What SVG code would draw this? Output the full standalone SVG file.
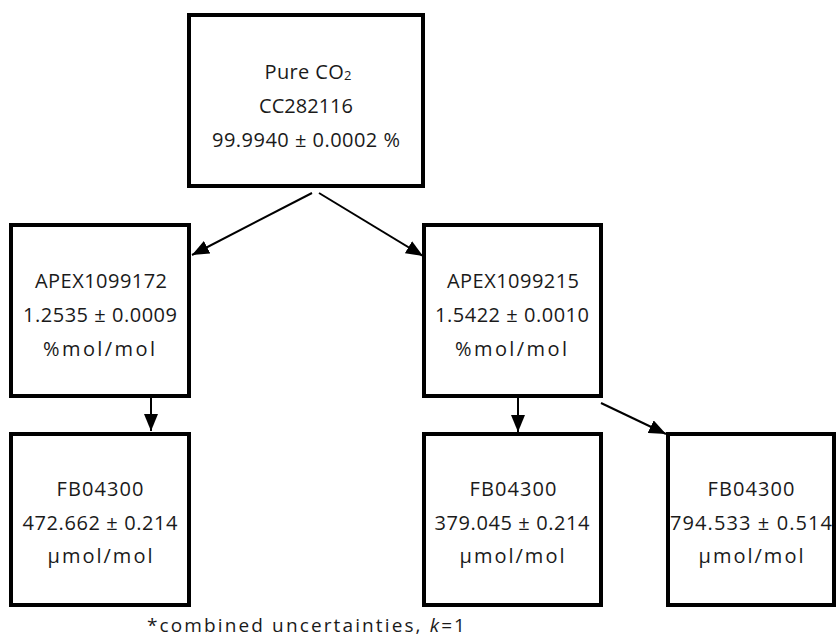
<svg xmlns="http://www.w3.org/2000/svg" width="837" height="637" viewBox="0 0 837 637">
<defs>
<marker id="ah" markerUnits="userSpaceOnUse" markerWidth="18" markerHeight="14" refX="17" refY="7" orient="auto">
<path d="M0,0 L17,7 L0,14 Z" fill="#000"/>
</marker>
<style>
.box{fill:#fff;stroke:#000;stroke-width:4}
.t{font-family:"Open Sans","Liberation Sans",Arial,sans-serif;font-size:20px;fill:#1a1a1a;text-anchor:middle}
.c{stroke:#000;stroke-width:2;fill:none;marker-end:url(#ah)}
.f{font-family:"Open Sans","Liberation Sans",Arial,sans-serif;font-size:19px;fill:#1a1a1a}
</style>
</defs>
<rect width="837" height="637" fill="#fff"/>
<g id="connectors">
<line class="c" x1="312" y1="193" x2="192" y2="255"/>
<line class="c" x1="319" y1="193" x2="423" y2="256"/>
<line class="c" x1="151" y1="398" x2="151" y2="431"/>
<line class="c" x1="518" y1="398" x2="518" y2="432"/>
<line class="c" x1="601" y1="403" x2="666" y2="434"/>
</g>
<g id="pure">
<rect class="box" x="189" y="15" width="234" height="171"/>
<text class="t" x="308" y="79" textLength="87" lengthAdjust="spacing">Pure CO<tspan font-size="13" dy="1">2</tspan></text>
<text class="t" x="306" y="113" textLength="94" lengthAdjust="spacing">CC282116</text>
<text class="t" x="306" y="147" textLength="188" lengthAdjust="spacing">99.9940 ± 0.0002 %</text>
</g>
<g id="apex172">
<rect class="box" x="11" y="225" width="178" height="171"/>
<text class="t" x="101" y="288" textLength="132" lengthAdjust="spacing">APEX1099172</text>
<text class="t" x="100" y="322" textLength="154" lengthAdjust="spacing">1.2535 ± 0.0009</text>
<text class="t" x="99" y="356" textLength="112" lengthAdjust="spacing">%mol/mol</text>
</g>
<g id="apex215">
<rect class="box" x="424" y="225" width="177" height="171"/>
<text class="t" x="513" y="288" textLength="132" lengthAdjust="spacing">APEX1099215</text>
<text class="t" x="512" y="322" textLength="154" lengthAdjust="spacing">1.5422 ± 0.0010</text>
<text class="t" x="511" y="356" textLength="112" lengthAdjust="spacing">%mol/mol</text>
</g>
<g id="fb1">
<rect class="box" x="11" y="434" width="178" height="171"/>
<text class="t" x="100" y="496" textLength="87" lengthAdjust="spacing">FB04300</text>
<text class="t" x="100" y="530" textLength="155" lengthAdjust="spacing">472.662 ± 0.214</text>
<text class="t" x="100" y="563" textLength="105" lengthAdjust="spacing">µmol/mol</text>
</g>
<g id="fb2">
<rect class="box" x="424" y="434" width="177" height="171"/>
<text class="t" x="513" y="496" textLength="87" lengthAdjust="spacing">FB04300</text>
<text class="t" x="512" y="530" textLength="155" lengthAdjust="spacing">379.045 ± 0.214</text>
<text class="t" x="512" y="563" textLength="105" lengthAdjust="spacing">µmol/mol</text>
</g>
<g id="fb3">
<rect class="box" x="668" y="434" width="166" height="171"/>
<text class="t" x="751" y="496" textLength="87" lengthAdjust="spacing">FB04300</text>
<text class="t" x="751" y="530" textLength="162" lengthAdjust="spacing">794.533 ± 0.514</text>
<text class="t" x="751" y="563" textLength="105" lengthAdjust="spacing">µmol/mol</text>
</g>
<g id="note">
<text class="f" x="147" y="632" textLength="318" lengthAdjust="spacing">*combined uncertainties, <tspan font-style="italic">k</tspan>=1</text>
</g>
</svg>
